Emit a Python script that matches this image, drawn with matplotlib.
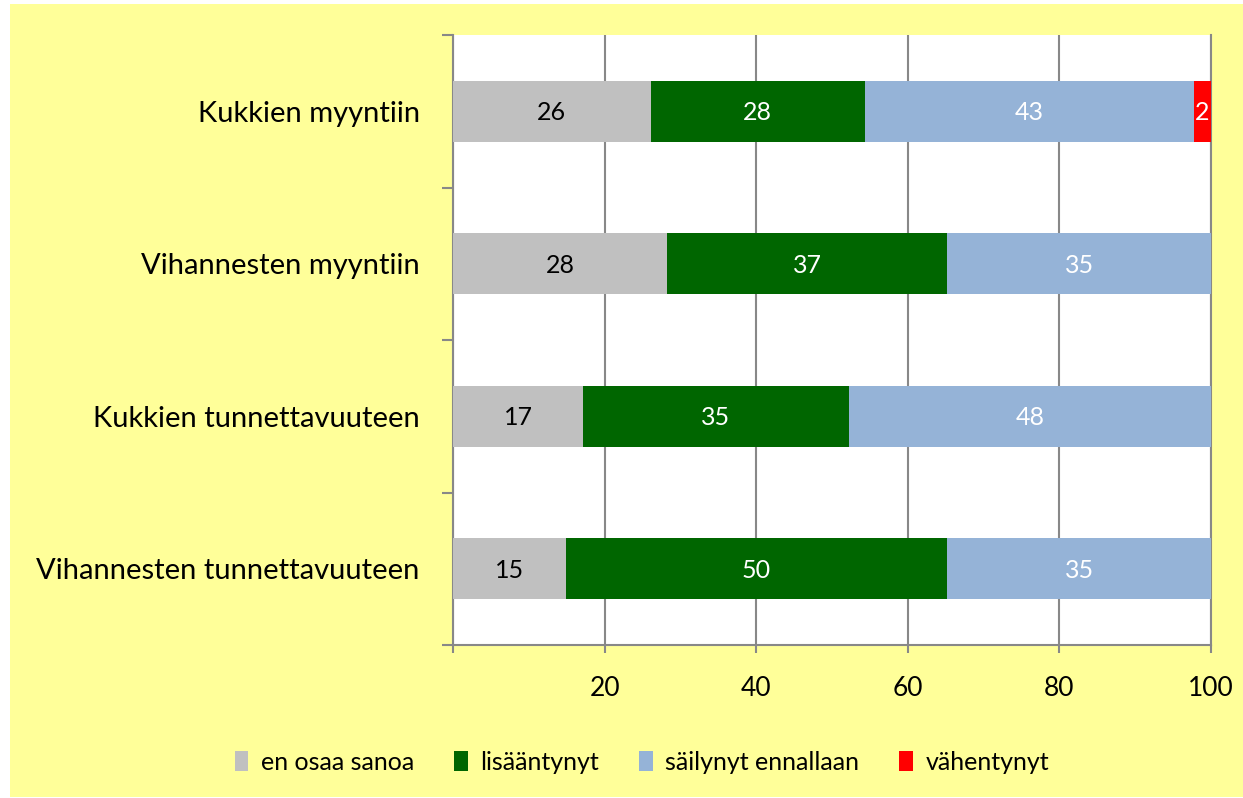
import matplotlib
matplotlib.use("Agg")
import matplotlib.pyplot as plt
from matplotlib.patches import Rectangle, Patch
import numpy as np

categories = ["Kukkien myyntiin", "Vihannesten myyntiin",
              "Kukkien tunnettavuuteen", "Vihannesten tunnettavuuteen"]
series_names = ["en osaa sanoa", "lisääntynyt", "säilynyt ennallaan", "vähentynyt"]
en_osaa_sanoa = [26.1, 28.2, 17.2, 14.9]
lisaantynyt = [28.2, 37.0, 35.0, 50.3]
sailynyt = [43.4, 34.8, 47.8, 34.8]
vahentynyt = [2.3, 0.0, 0.0, 0.0]
x_ticks = [20, 40, 60, 80, 100]

colors = ["#C0C0C0", "#006600", "#95B3D7", "#FF0000"]
label_colors = ["black", "white", "white", "white"]

plt.rcParams['font.family'] = ['Lato', 'DejaVu Sans']

W, H = 1243, 798
fig = plt.figure(figsize=(W / 100, H / 100), dpi=100)
fig.patch.set_facecolor("white")
fig.patches.append(Rectangle((10 / W, 1 / H), (W - 10) / W, (H - 5) / H,
                             transform=fig.transFigure, facecolor="#FFFF99",
                             edgecolor="none", zorder=-10))

ax = fig.add_axes([453 / W, (H - 645) / H, (1211 - 453) / W, (645 - 35) / H])
ax.set_facecolor("white")

series = [en_osaa_sanoa, lisaantynyt, sailynyt, vahentynyt]
y = np.arange(len(categories))
left = np.zeros(len(categories))
for vals, col, lc in zip(series, colors, label_colors):
    vals = np.array(vals)
    ax.barh(y, vals, left=left, height=0.4, color=col, edgecolor="none", zorder=3)
    for yi, v, l in zip(y, vals, left):
        if v > 0:
            ax.text(l + v / 2, yi + 0.01, f"{v:.0f}", ha="center", va="center",
                    color=lc, fontsize=18, zorder=4)
    left += vals

ax.set_xlim(0, 100)
ax.set_ylim(3.5, -0.5)
ax.set_xticks([0] + x_ticks)
ax.set_xticklabels([""] + [str(t) for t in x_ticks])
ax.set_yticks(y)
ax.set_yticklabels(categories)
ax.set_yticks(np.arange(-0.5, 4.0, 1.0), minor=True)
ax.tick_params(axis="y", which="major", length=0, pad=24, labelsize=21)
ax.tick_params(axis="y", which="minor", length=8, width=1.5, color="#888888")
ax.tick_params(axis="x", which="major", length=6, width=1.5, color="#888888",
               pad=16, labelsize=19)
ax.grid(axis="x", color="#888888", linewidth=1.5, zorder=1)
ax.set_axisbelow(True)
ax.spines["top"].set_visible(False)
for side in ["left", "bottom", "right"]:
    ax.spines[side].set_color("#888888")
    ax.spines[side].set_linewidth(1.5)

handles = [Patch(facecolor=c, edgecolor="none") for c in colors]
fig.legend(handles, series_names, loc="center", bbox_to_anchor=(642 / W, (H - 762) / H),
           ncol=4, frameon=False, fontsize=18, handlelength=0.55, handleheight=0.9,
           handletextpad=0.5, columnspacing=1.6)

fig.savefig("out.png", dpi=100, facecolor=fig.get_facecolor())
